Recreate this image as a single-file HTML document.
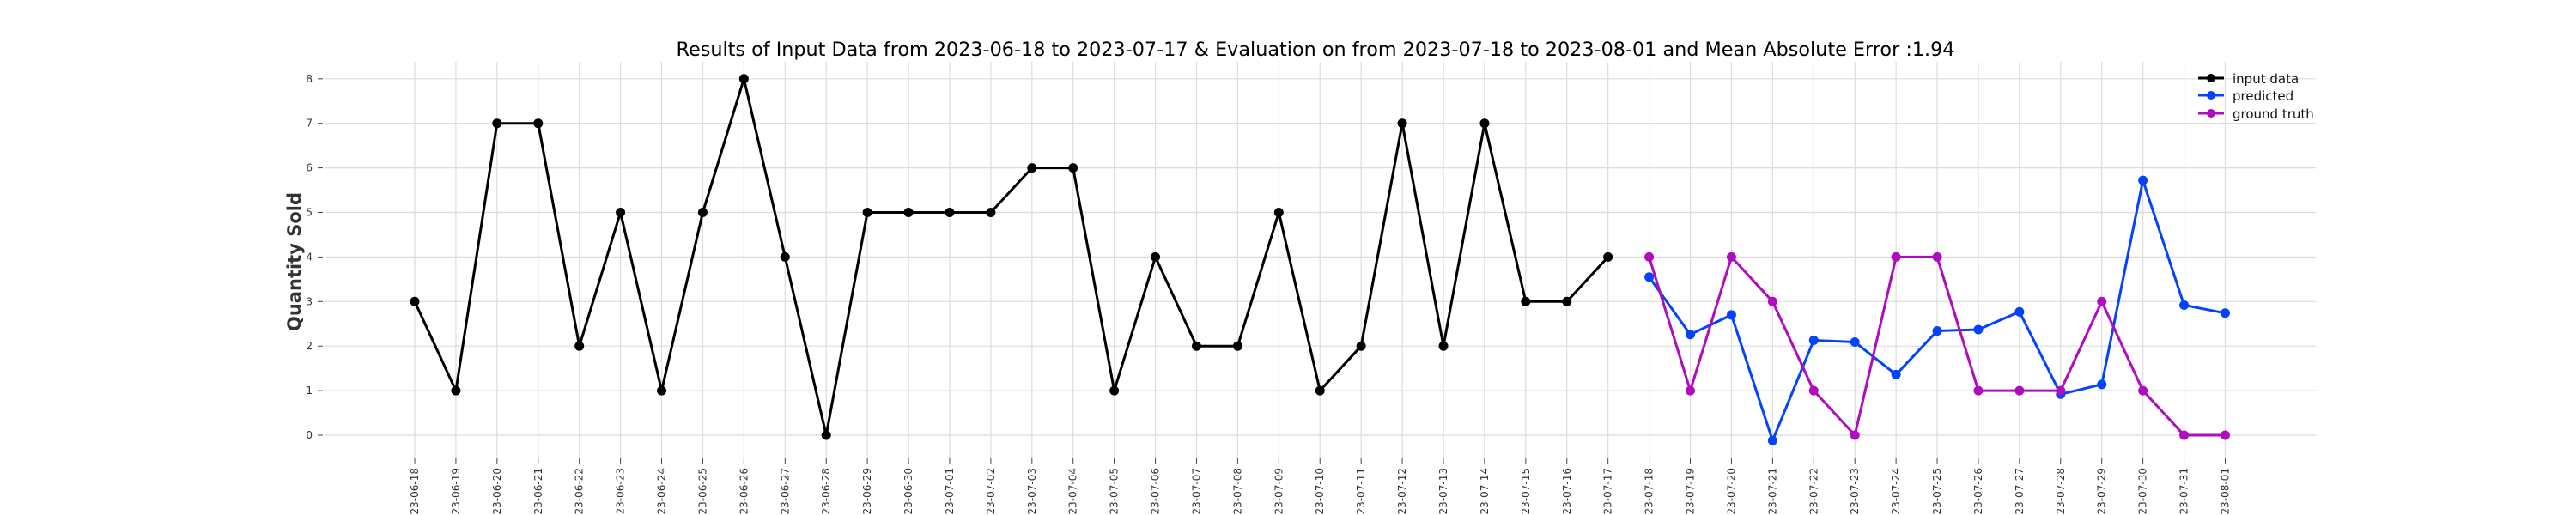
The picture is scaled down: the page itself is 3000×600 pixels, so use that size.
<!DOCTYPE html>
<html><head><meta charset="utf-8"><style>
html,body{margin:0;padding:0;background:#fff;}
svg{display:block;font-family:"DejaVu Sans","Liberation Sans",sans-serif;}
</style></head><body>
<svg id="chart" width="3000" height="600" viewBox="0 0 3000 600">
<text x="1532" y="65" text-anchor="middle" font-size="22.3" fill="#000">Results of Input Data from 2023-06-18 to 2023-07-17 &amp; Evaluation on from 2023-07-18 to 2023-08-01 and Mean Absolute Error  :1.94</text>
<text transform="translate(350,305) rotate(-90)" text-anchor="middle" font-size="21" font-weight="bold" fill="#333">Quantity Sold</text>
<g id="grid"></g><g id="yticks"></g><g id="xticks"></g><g id="series"></g>
<g>
 <g><line x1="2560" y1="91" x2="2590" y2="91" stroke="#000" stroke-width="3"/><circle cx="2575" cy="91" r="5" fill="#000"/><text x="2600" y="97" font-size="15" fill="#111">input data</text></g>
 <g><line x1="2560" y1="111" x2="2590" y2="111" stroke="#0343ff" stroke-width="3"/><circle cx="2575" cy="111" r="5" fill="#0343ff"/><text x="2600" y="117" font-size="15" fill="#111">predicted</text></g>
 <g><line x1="2560" y1="132" x2="2590" y2="132" stroke="#b00cbf" stroke-width="3"/><circle cx="2575" cy="132" r="5" fill="#b00cbf"/><text x="2600" y="138" font-size="15" fill="#111">ground truth</text></g>
</g>
</svg>
<script>
const inputValues=[3,1,7,7,2,5,1,5,8,4,0,5,5,5,5,6,6,1,4,2,2,5,1,2,7,2,7,3,3,4];
const predictedValues=[3.55,2.26,2.70,-0.12,2.13,2.09,1.36,2.34,2.37,2.77,0.92,1.14,5.72,2.92,2.74];
const truthValues=[4,1,4,3,1,0,4,4,1,1,1,3,1,0,0];
const yTicks=[0,1,2,3,4,5,6,7,8];
const startDate='2023-06-18';
const NS='http://www.w3.org/2000/svg';
const X0=483,DX=47.92,Y0=507,DY=51.9,LEFT=378,RIGHT=2697,TOP=72,BOT=534;
const xs=i=>X0+i*DX, ys=v=>Y0-v*DY;
function mk(t,a,p){const e=document.createElementNS(NS,t);for(const k in a)e.setAttribute(k,a[k]);p.appendChild(e);return e;}
const grid=document.getElementById('grid'),yt=document.getElementById('yticks'),xt=document.getElementById('xticks'),ser=document.getElementById('series');
const nDays=inputValues.length+predictedValues.length;
function dateLabel(i){const d=new Date(startDate+'T00:00:00Z');d.setUTCDate(d.getUTCDate()+i);return d.toISOString().slice(0,10);}
yTicks.forEach(v=>{
 const g=mk('line',{x1:LEFT,x2:RIGHT,y1:ys(v),y2:ys(v),stroke:'#dcdcdc','stroke-width':1.2},grid);
 
 
 mk('line',{x1:370,x2:376,y1:ys(v),y2:ys(v),stroke:'#444','stroke-width':1},yt);
 const t=mk('text',{x:364,y:ys(v)+4,'text-anchor':'end','font-size':12,fill:'#333'},yt);
 t.textContent=v;
 
 
}
);
for(let i=0;i<nDays;i++){
 const g=mk('line',{x1:xs(i),x2:xs(i),y1:TOP,y2:BOT,stroke:'#dcdcdc','stroke-width':1.2},grid);
 
 
 mk('line',{x1:xs(i),x2:xs(i),y1:BOT,y2:BOT+6,stroke:'#444','stroke-width':1},xt);
 const t=mk('text',{transform:`translate(${xs(i)+4},545) rotate(-90)`,'text-anchor':'end','font-size':12,fill:'#333'},xt);
 t.textContent=dateLabel(i);
 
 
}
function series(vals,off,color,name){
 const pts=vals.map((v,i)=>xs(i+off)+','+ys(v)).join(' ');
 const pl=mk('polyline',{points:pts,fill:'none',stroke:color,'stroke-width':3,'stroke-linejoin':'round'},ser);
 
 
 vals.forEach((v,i)=>{
  const c=mk('circle',{cx:xs(i+off),cy:ys(v),r:5.5,fill:color},ser);
  
  
 });
}
series(inputValues,0,'#000','input-data');
series(predictedValues,inputValues.length,'#0343ff','predicted');
series(truthValues,inputValues.length,'#b00cbf','ground-truth');
</script>
</body></html>
